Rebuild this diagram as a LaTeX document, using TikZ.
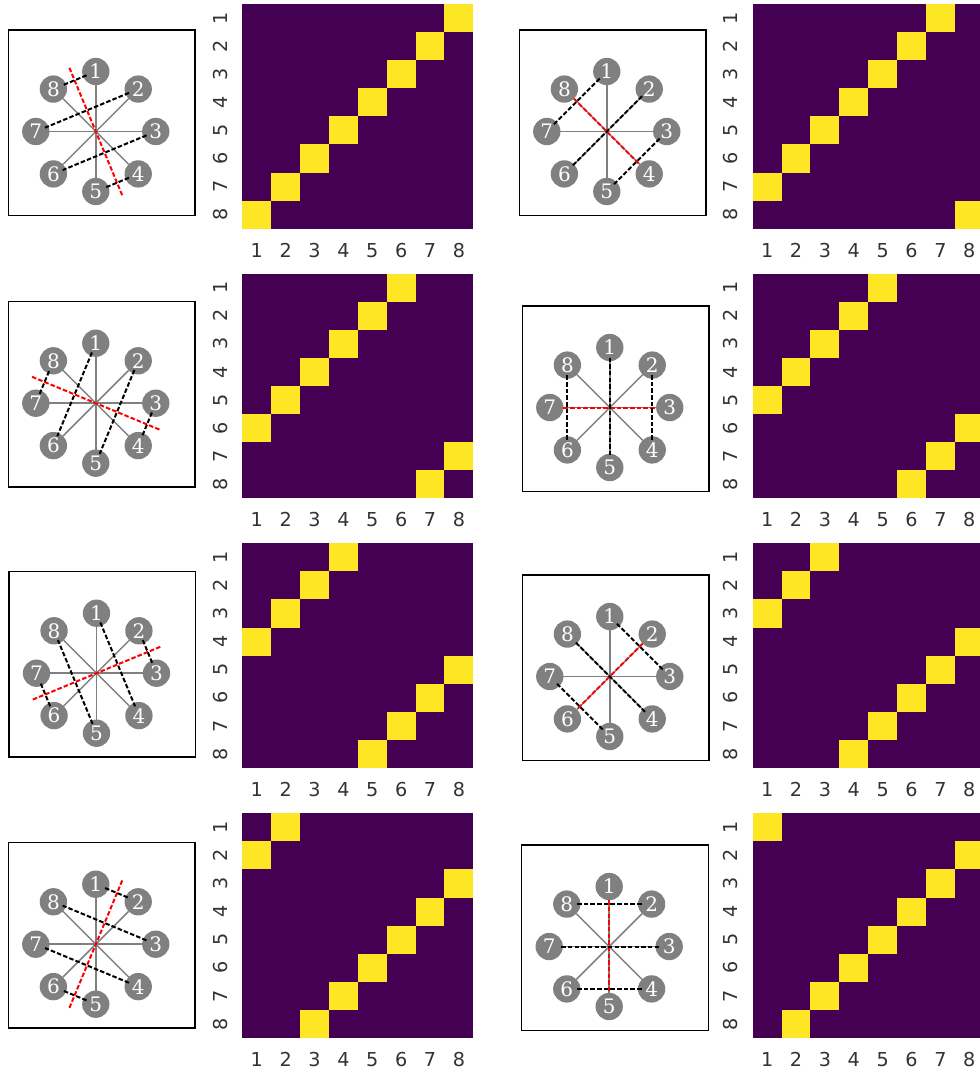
\documentclass[tikz,border=0pt]{standalone}
\usepackage{fontspec}
\newfontfamily\ticksans{DejaVu Sans}
\newfontfamily\vertserif{DejaVu Serif}
\definecolor{cold}{HTML}{440154}
\definecolor{hot}{HTML}{FDE725}
\definecolor{vertgray}{HTML}{808080}
\definecolor{ticktext}{HTML}{333333}

% one panel: framed star (#1,#2), matrix (#3,#4), permutation #5, pairs #6, axis #7
\newcommand{\mirrorpanel}[7]{%
  \draw[frame] (#1,#2) rectangle ++(186.7,185.5);
  \begin{scope}[shift={(#1+87.5,#2+101.5)}]
    \coordinate (c) at (0,0);
    \foreach \k in {1,...,8}
      \node[vert] (n\k) at ({45*\k-135}:60) {\k};
    \foreach \k in {1,...,8}
      \draw[spoke] (c) -- (n\k);
    \draw[axis] #7;
    \foreach \a/\b in {#6}
      \draw[pair] (n\a) -- (n\b);
  \end{scope}
  \begin{scope}[shift={(#3,#4)}]
    \fill[cold] (0,0) rectangle (231,224.7);
    \foreach \c [count=\r] in {#5} {
      \fill[hot] ({(\c-1)*28.875},{(\r-1)*28.09}) rectangle ++(28.875,28.09);
      \node[tick, rotate=90] (row\r) at (-22,{(\r-0.5)*28.09}) {\r};
      \node[tick] (col\r) at ({(\r-0.5)*28.875},246.2) {\r};
    }
  \end{scope}}

\begin{document}
\begin{tikzpicture}[x=0.75pt, y=-0.75pt,
    frame/.style={draw=black, line width=1.1pt},
    vert/.style={circle, fill=vertgray, text=white, minimum size=20.5pt, inner sep=0pt, outer sep=0pt,
                 font=\vertserif\fontsize{15}{15}\selectfont},
    spoke/.style={draw=vertgray, line width=1.1pt},
    pair/.style={draw=black, line width=1.5pt, dash pattern=on 3.4pt off 1.6pt,
                 shorten <=-2.7pt, shorten >=-2.7pt},
    axis/.style={draw=red, line width=1.5pt, dash pattern=on 3.4pt off 1.6pt},
    tick/.style={text=ticktext, inner sep=0pt, font=\ticksans\fontsize{14.4}{14.4}\selectfont}]
  \useasboundingbox (0,0) rectangle (980,1071);
  \clip (0,0) rectangle (980,1071);

  % row 1
  \mirrorpanel{8.3}{30}{242.3}{4}{8,7,6,5,4,3,2,1}{1/8,2/7,3/6,4/5}{(-112.5:69) -- (67.5:69)}
  \mirrorpanel{519.3}{30}{752.7}{4}{7,6,5,4,3,2,1,8}{1/7,2/6,3/5}{(n8) -- (n4)}
  % row 2
  \mirrorpanel{8.3}{301.7}{242.3}{273.6}{6,5,4,3,2,1,8,7}{1/6,2/5,3/4,7/8}{(202.5:69) -- (22.5:69)}
  \mirrorpanel{522.3}{306}{752.7}{273.6}{5,4,3,2,1,8,7,6}{1/5,2/4,6/8}{(n7) -- (n3)}
  % row 3
  \mirrorpanel{9}{571.7}{242.3}{543.3}{4,3,2,1,8,7,6,5}{1/4,2/3,5/8,6/7}{(-22.5:69) -- (157.5:69)}
  \mirrorpanel{522.3}{575}{752.7}{543.3}{3,2,1,8,7,6,5,4}{1/3,4/8,5/7}{(n2) -- (n6)}
  % row 4
  \mirrorpanel{8.3}{842.7}{242.3}{813.3}{2,1,8,7,6,5,4,3}{1/2,3/8,4/7,5/6}{(-67.5:69) -- (112.5:69)}
  \mirrorpanel{521.7}{845}{752.7}{813.3}{1,8,7,6,5,4,3,2}{2/8,3/7,4/6}{(n1) -- (n5)}
\end{tikzpicture}
\end{document}
